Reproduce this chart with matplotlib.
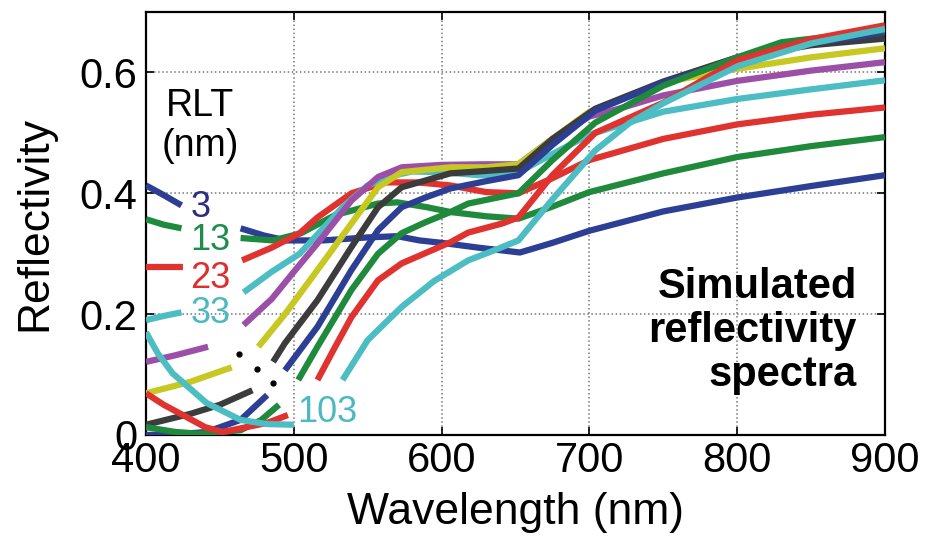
import numpy as np
import matplotlib
matplotlib.use("Agg")
import matplotlib.pyplot as plt

plt.rcParams['font.family'] = ['Liberation Sans', 'DejaVu Sans']

nan = np.nan

# reflectivity spectra, one per RLT value (nan = gap in the line)
wl_3 = [400, 412, 424, nan, 464, 480, 495, 520, 550, 570, 585, 600, 625, 653, 675, 700, 750, 800, 850, 900]
r_3 = [0.413, 0.397, 0.380, nan, 0.342, 0.330, 0.322, 0.322, 0.327, 0.329, 0.322, 0.318, 0.310, 0.302, 0.318, 0.338, 0.370, 0.393, 0.412, 0.430]

wl_13 = [400, 412, 424, nan, 464, 486, 505, 528, 557, 570, 590, 606, 630, 652, 675, 700, 750, 800, 850, 900]
r_13 = [0.357, 0.348, 0.342, nan, 0.326, 0.322, 0.334, 0.364, 0.383, 0.385, 0.377, 0.369, 0.362, 0.358, 0.378, 0.402, 0.433, 0.460, 0.478, 0.493]

wl_23 = [400, 425, nan, 465, 485, 504, 516, 539, 562, 584, 606, 630, 652, 675, 700, 750, 800, 850, 900]
r_23 = [0.278, 0.278, nan, 0.289, 0.310, 0.334, 0.360, 0.400, 0.418, 0.418, 0.413, 0.402, 0.400, 0.425, 0.455, 0.490, 0.514, 0.530, 0.542]

wl_33 = [400, 412, 424, nan, 466, 485, 504, 533, 550, 565, 580, 600, 625, 650, 675, 700, 750, 800, 850, 900]
r_33 = [0.190, 0.197, 0.203, nan, 0.236, 0.270, 0.300, 0.377, 0.413, 0.428, 0.436, 0.435, 0.430, 0.432, 0.465, 0.497, 0.535, 0.556, 0.572, 0.587]

wl_43 = [400, 420, 442, nan, 466, 485, 500, 516, 539, 557, 573, 600, 630, 652, 675, 700, 720, 750, 800, 850, 900]
r_43 = [0.121, 0.132, 0.146, nan, 0.182, 0.225, 0.270, 0.317, 0.388, 0.427, 0.443, 0.447, 0.448, 0.448, 0.490, 0.527, 0.540, 0.562, 0.586, 0.603, 0.617]

wl_53 = [400, 430, 458, nan, 476, 494, 516, 539, 557, 573, 606, 630, 652, 675, 700, 730, 760, 800, 850, 900]
r_53 = [0.069, 0.088, 0.112, nan, 0.146, 0.200, 0.273, 0.350, 0.410, 0.435, 0.443, 0.443, 0.448, 0.490, 0.535, 0.565, 0.588, 0.606, 0.625, 0.640]

wl_63 = [400, 430, 450, 472, nan, 486, 494, 516, 539, 557, 573, 606, 630, 652, 675, 704, 750, 800, 850, 900]
r_63 = [0.017, 0.035, 0.050, 0.074, nan, 0.121, 0.152, 0.223, 0.311, 0.377, 0.410, 0.433, 0.437, 0.441, 0.490, 0.540, 0.585, 0.625, 0.645, 0.656]

wl_73 = [400, 420, 441, 464, 482, nan, 494, 516, 539, 557, 573, 589, 606, 630, 652, 675, 704, 750, 800, 850, 900]
r_73 = [0.000, 0.001, 0.005, 0.025, 0.066, nan, 0.107, 0.179, 0.273, 0.339, 0.377, 0.393, 0.408, 0.420, 0.430, 0.480, 0.537, 0.583, 0.622, 0.648, 0.666]

wl_83 = [400, 420, 437, 464, 478, 490, nan, 503, 516, 539, 557, 573, 589, 606, 618, 652, 675, 704, 750, 800, 830, 900]
r_83 = [0.013, 0.005, 0.002, 0.008, 0.025, 0.050, nan, 0.091, 0.146, 0.240, 0.300, 0.334, 0.352, 0.369, 0.383, 0.400, 0.455, 0.517, 0.578, 0.625, 0.650, 0.670]

wl_93 = [400, 412, 425, 440, 452, 482, 496, nan, 516, 528, 539, 557, 573, 606, 618, 641, 652, 675, 704, 750, 800, 850, 900]
r_93 = [0.069, 0.050, 0.033, 0.013, 0.005, 0.020, 0.033, nan, 0.091, 0.146, 0.195, 0.256, 0.284, 0.319, 0.335, 0.350, 0.360, 0.430, 0.500, 0.550, 0.620, 0.655, 0.678]

wl_103 = [400, 408, 418, 441, 464, 482, 500, nan, 533, 550, 573, 595, 618, 635, 652, 675, 704, 727, 750, 800, 850, 900]
r_103 = [0.170, 0.135, 0.102, 0.053, 0.025, 0.018, 0.017, nan, 0.091, 0.157, 0.212, 0.255, 0.289, 0.305, 0.322, 0.390, 0.471, 0.516, 0.549, 0.610, 0.648, 0.672]

rlt = [3, 13, 23, 33, 43, 53, 63, 73, 83, 93, 103]
line_colors = ['#2d3f94', '#1f8a3c', '#e0322e', '#4dbdc4', '#9c4fa6', '#c8c822',
               '#3c3c3c', '#2d3f94', '#1f8a3c', '#e0322e', '#4dbdc4']

# the "..." between the 33 and 103 labels
dots_wl = [463, 475, 486]
dots_r = [0.134, 0.109, 0.086]

labels = ['3', '13', '23', '33', '103']
label_colors = ['#2b2d7e', '#1f8c4a', '#de2d2d', '#4bb8c2', '#4bb8c2']

curves = [(wl_3, r_3), (wl_13, r_13), (wl_23, r_23), (wl_33, r_33), (wl_43, r_43),
          (wl_53, r_53), (wl_63, r_63), (wl_73, r_73), (wl_83, r_83), (wl_93, r_93),
          (wl_103, r_103)]

fig = plt.figure(figsize=(9.27, 5.41), dpi=100)
ax = fig.add_axes([146 / 927, 106 / 541, 739 / 927, 423 / 541])

for (wl, r), c in zip(curves, line_colors):
    ax.plot(wl, r, color=c, lw=4.5, solid_joinstyle='round', solid_capstyle='butt', zorder=3)

ax.plot(dots_wl, dots_r, 'o', color='black', ms=3.5, zorder=4)

ax.set_xlim(400, 900)
ax.set_ylim(0, 0.7)
ax.set_xticks([400, 500, 600, 700, 800, 900])
ax.set_yticks([0, 0.2, 0.4, 0.6])
ax.set_yticklabels(['0', '0.2', '0.4', '0.6'])
ax.grid(True, ls=':', color='#777777', lw=1.1)
ax.tick_params(direction='in', length=6, width=1.2, top=True, right=True, labelsize=30)
ax.tick_params(axis='y', pad=6)
ax.tick_params(axis='x', pad=4)
for s in ax.spines.values():
    s.set_linewidth(1.6)

ax.set_xlabel('Wavelength (nm)', fontsize=32)
ax.set_ylabel('Reflectivity', fontsize=32)
ax.xaxis.set_label_coords(0.5, -0.135)
ax.yaxis.set_label_coords(-0.123, 0.5)

# RLT labels
ax.text(436.5, 0.462, 'RLT\n(nm)', fontsize=27, ha='center', va='baseline', linespacing=1.14)
label_pos = [(430, 0.360), (430, 0.306), (430, 0.243), (430, 0.185), (502, 0.0215)]
for t, c, (x, y) in zip(labels, label_colors, label_pos):
    ax.text(x, y, t, fontsize=26, color=c, ha='left', va='baseline', zorder=5)

ax.text(881, 0.172, 'Simulated\nreflectivity\nspectra', fontsize=30, fontweight='bold',
        ha='right', va='center', multialignment='right', linespacing=1.12)

fig.savefig('out.png', dpi=100)
